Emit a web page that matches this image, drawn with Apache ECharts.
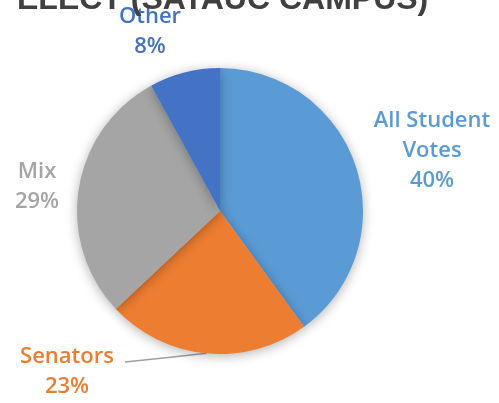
<!DOCTYPE html>
<html>
<head>
<meta charset="utf-8">
<script src="https://cdn.jsdelivr.net/npm/echarts@6/dist/echarts.min.js"></script>
<style>html,body{margin:0;padding:0;background:#fff}#c{width:499px;height:403px}</style>
</head>
<body>
<div id="c"></div>
<script>
var titleText = 'ELECT (SATAUC CAMPUS)';
var categories = ['All Student\nVotes', 'Senators', 'Mix', 'Other'];
var values = [40, 23, 29, 8];
var colors = ['#5B9BD5', '#ED7D31', '#A5A5A5', '#4472C4'];
var labelPos = [[432, 151], [67, 372], [37, 187], [150, 32]];

var chart = echarts.init(document.getElementById('c'));
chart.setOption({
  animation: false,
  title: {
    text: titleText, left: 12, top: -21,
    textStyle: { fontFamily: 'Liberation Sans', fontSize: 32, fontWeight: 'bold', color: '#404040' }
  },
  series: [{
    type: 'pie',
    center: [220, 211],
    radius: [0, 143],
    startAngle: 90,
    clockwise: true,
    data: categories.map(function (c, i) {
      return {
        name: c, value: values[i],
        itemStyle: { color: colors[i] },
        label: { color: colors[i] },
        labelLine: { show: i === 1 }
      };
    }),
    itemStyle: { shadowBlur: 12, shadowColor: 'rgba(0,0,0,0.3)', shadowOffsetY: 2 },
    label: {
      show: true, position: 'outside', overflow: 'none',
      formatter: '{b}\n{d}%',
      fontFamily: 'Open Sans', fontWeight: 600, fontSize: 22, lineHeight: 30, align: 'center'
    },
    labelLine: { show: true, length: 10, length2: 10, lineStyle: { color: '#A0A0A0', width: 1.5 } },
    labelLayout: function (p) {
      var pos = labelPos[p.dataIndex];
      var res = { x: pos[0], y: pos[1], align: 'center', verticalAlign: 'middle' };
      if (p.dataIndex === 1 && p.labelLinePoints) {
        var a = p.labelLinePoints[0];
        var end = [pos[0] + 58, pos[1] - 10];
        res.labelLinePoints = [a, [(a[0] + end[0]) / 2, (a[1] + end[1]) / 2], end];
      }
      return res;
    }
  }]
});
</script>
</body>
</html>
